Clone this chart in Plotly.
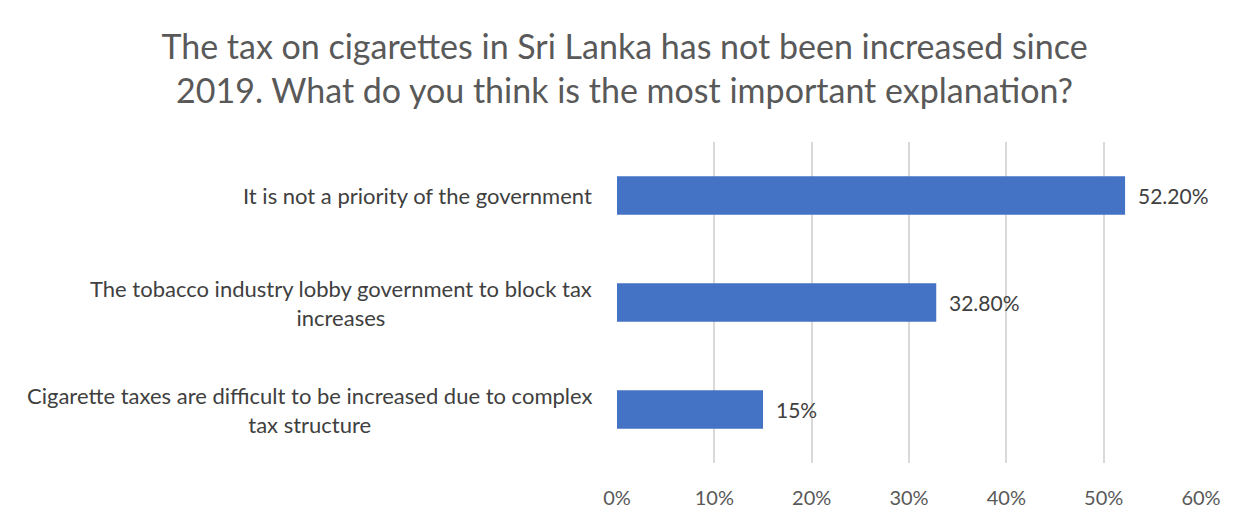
import plotly.graph_objects as go

categories = [
    "It is not a priority of the government",
    "The tobacco industry lobby government to block tax<br>increases",
    "Cigarette taxes are difficult to be increased due to complex<br>tax structure",
]
values = [52.2, 32.8, 15]
value_labels = ["52.20%", "32.80%", "15%"]
tick_vals = [0, 10, 20, 30, 40, 50, 60]
tick_text = ["0%", "10%", "20%", "30%", "40%", "50%", "60%"]
title_text = ("The tax on cigarettes in Sri Lanka has not been increased since<br>"
              "2019. What do you think is the most important explanation?")

# the page adds an 8px body margin, so the figure is sized/positioned to compensate
W, H = 1241, 515
ML, MR, MT, MB = 609, 48, 134, 60
FONT = "Lato"
PW = W - ML - MR
PH = H - MT - MB

fig = go.Figure()
fig.add_trace(go.Bar(
    y=categories, x=values, orientation="h",
    marker=dict(color="#4472C4", line=dict(width=0)),
    width=0.36,
    hoverinfo="x+y",
))

annotations = []
for c in categories:
    annotations.append(dict(
        x=0, xref="paper", y=c, yref="y", xanchor="right", yanchor="middle",
        xshift=-23, text=c, showarrow=False, align="center",
        font=dict(family=FONT, size=22, color="#404040"),
    ))
for c, v, t in zip(categories, values, value_labels):
    annotations.append(dict(
        x=v, xref="x", y=c, yref="y", xanchor="left", yanchor="middle",
        xshift=11, text=t, showarrow=False,
        font=dict(family=FONT, size=21, color="#404040"),
    ))

right_x = (W - 1 - ML) / PW
shapes = [
    dict(type="line", xref="paper", yref="paper", x0=right_x, x1=right_x,
         y0=-MB / PH, y1=1 + MT / PH, line=dict(color="#d9d9d9", width=1.5)),
]

fig.update_layout(
    width=W, height=H,
    margin=dict(l=ML, r=MR, t=MT, b=MB),
    paper_bgcolor="white", plot_bgcolor="white",
    title=dict(text=title_text, x=0.5 - 4 / W, xref="container", xanchor="center",
               y=1 - 51 / H, yref="container", yanchor="middle",
               font=dict(family=FONT, size=34, color="#595959")),
    showlegend=False,
    annotations=annotations,
    shapes=shapes,
    font=dict(family=FONT),
)
fig.update_xaxes(
    range=[0, 60], tickvals=tick_vals, ticktext=tick_text,
    showgrid=True, gridcolor="#d9d9d9", gridwidth=1.5,
    zeroline=False, showline=False,
    ticks="outside", ticklen=17, tickcolor="rgba(0,0,0,0)",
    tickfont=dict(family=FONT, size=20, color="#595959"),
)
fig.update_yaxes(
    autorange="reversed", showticklabels=False, showgrid=False,
    zeroline=False, showline=False,
)

fig.write_html("out.html")
